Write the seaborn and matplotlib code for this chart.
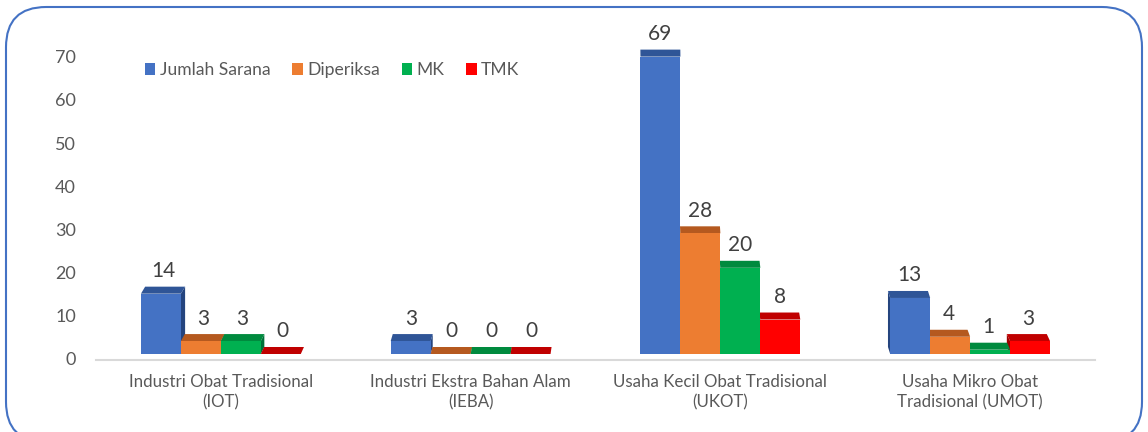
import matplotlib
matplotlib.use("Agg")
import matplotlib.pyplot as plt
from matplotlib.patches import Polygon, FancyBboxPatch, Patch
from matplotlib.transforms import blended_transform_factory, ScaledTranslation
import seaborn as sns
import pandas as pd
import numpy as np

categories = ["Industri Obat Tradisional\n(IOT)", "Industri Ekstra Bahan Alam\n(IEBA)",
              "Usaha Kecil Obat Tradisional\n(UKOT)", "Usaha Mikro Obat\nTradisional (UMOT)"]
series = ["Jumlah Sarana", "Diperiksa", "MK", "TMK"]
jumlah_sarana = [14, 3, 69, 13]
diperiksa = [3, 0, 28, 4]
mk = [3, 0, 20, 1]
tmk = [0, 0, 8, 3]
y_ticks = [0, 10, 20, 30, 40, 50, 60, 70]

front_colors = ["#4472C4", "#ED7D31", "#00B050", "#FF0000"]
top_colors = ["#2F5597", "#B5591F", "#008A3E", "#C00000"]
side_colors = ["#24447E", "#9A4A18", "#00703A", "#A00000"]

values = [jumlah_sarana, diperiksa, mk, tmk]
df = pd.DataFrame({
    "cat": categories * 4,
    "series": [s for s in series for _ in categories],
    "value": [v for vals in values for v in vals],
})

sns.set_theme(style="white")
plt.rcParams["font.family"] = ["Lato", "DejaVu Sans"]

W, H = 1148, 432
fig = plt.figure(figsize=(W / 100, H / 100), dpi=100)
ax_left, ax_right = 96, 1095
ax_top, ax_bottom = 20, 360
ax = fig.add_axes([ax_left / W, 1 - ax_bottom / H, (ax_right - ax_left) / W, (ax_bottom - ax_top) / H])

sns.barplot(data=df, x="cat", y="value", hue="series", order=categories, hue_order=series,
            palette=front_colors, width=0.64, ax=ax, legend=False, saturation=1,
            edgecolor="none", linewidth=0, errorbar=None)

ymax = (ax_bottom - ax_top) / 4.31
ax.set_ylim(0, ymax)
ax.set_xlim(-0.5, len(categories) - 0.5)

px_x = (len(categories)) / (ax_right - ax_left)
px_y = ymax / (ax_bottom - ax_top)
base = 6 * px_y          # 3D floor offset
depth_dy = 7 * px_y      # top face depth
vanish_px = 650
k = 4.0 / (vanish_px - 183)

for si, cont in enumerate(ax.containers):
    for ci, bar in enumerate(cont.patches):
        val = values[si][ci]
        x0 = bar.get_x()
        w = bar.get_width()
        xc_px = ax_left + (x0 + w / 2 + 0.5) / px_x
        dxp = (vanish_px - xc_px) * k
        dx = dxp * px_x
        z = 3 + (si if dxp >= 0 else (3 - si)) * 0.1
        bar.set_y(base)
        bar.set_height(val)
        bar.set_zorder(z + 0.05)
        top = base + val
        if abs(dxp) > 0.3:
            xs = x0 + w if dxp > 0 else x0
            side = Polygon([(xs, base), (xs, top), (xs + dx, top + depth_dy), (xs + dx, base + depth_dy)],
                           closed=True, facecolor=side_colors[si], edgecolor="none", zorder=z)
            ax.add_patch(side)
        topf = Polygon([(x0, top), (x0 + w, top), (x0 + w + dx, top + depth_dy), (x0 + dx, top + depth_dy)],
                       closed=True, facecolor=top_colors[si], edgecolor="none", zorder=z + 0.02)
        ax.add_patch(topf)
        ax.annotate(f"{val}", (x0 + w / 2 + dx / 2, top + depth_dy), xytext=(0, 4),
                    textcoords="offset points", ha="center", va="bottom",
                    fontsize=15, color="#404040", zorder=10)

# y tick labels drawn as text on the axis scale
ax.set_yticks(y_ticks)
ax.set_yticklabels([])
ax.tick_params(axis="y", length=0)
ytrans = blended_transform_factory(ax.transAxes, ax.transData) + \
    ScaledTranslation(-20 / 100, 0, fig.dpi_scale_trans)
for t in y_ticks:
    ax.text(0, t, str(t), transform=ytrans, ha="right", va="center",
            fontsize=13, color="#595959")

ax.tick_params(axis="x", length=0, pad=10, labelsize=12.2, labelcolor="#595959")
for lbl in ax.get_xticklabels():
    lbl.set_linespacing(1.3)
ax.set_xlabel("")
ax.set_ylabel("")
for s in ["left", "right", "top"]:
    ax.spines[s].set_visible(False)
ax.spines["bottom"].set_color("#D9D9D9")
ax.spines["bottom"].set_linewidth(1.5)
ax.grid(False)
ax.patch.set_alpha(0)

handles = [Patch(facecolor=c, edgecolor="none") for c in front_colors]
leg = ax.legend(handles, series, loc="center left", bbox_to_anchor=(0.040, 0.853), ncol=4,
                frameon=False, fontsize=12.6, handlelength=0.6, handleheight=0.65,
                handletextpad=0.25, columnspacing=1.25, labelcolor="#595959", borderpad=0)

border = FancyBboxPatch((6 / W, -10 / H), (W - 12) / W, (H - 7 + 10) / H,
                        boxstyle="round,pad=0,rounding_size=0.035", transform=fig.transFigure,
                        facecolor="none", edgecolor="#4472C4", linewidth=1.5, mutation_aspect=W / H)
fig.patches.append(border)

fig.savefig("out.png", dpi=100)
